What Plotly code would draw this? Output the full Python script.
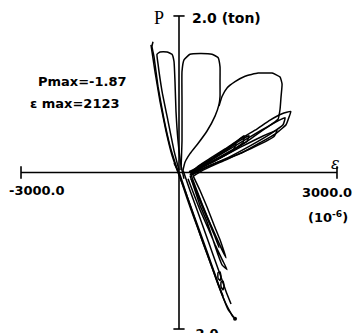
import plotly.graph_objects as go

# Axis extents (strain in 10^-6, load in ton)
x_axis_strain = [-3000.0, 3000.0]
y_axis_load = [-2.0, 2.0]

# Steep compression branches through the origin
branch_l1_strain = [-532, -456, -361, -247, -133, -19, 114, 247, 399, 532, 684, 817, 931, 1064]
branch_l1_load = [1.63, 1.29, 0.91, 0.53, 0.22, 0.0, -0.23, -0.48, -0.76, -1.01, -1.30, -1.56, -1.75, -1.87]

branch_l2_strain = [1026, 893, 741, 589, 437, 285, 152, 38, -57, -171, -285, -399, -475, -513, -494]
branch_l2_load = [-1.85, -1.68, -1.43, -1.14, -0.86, -0.58, -0.33, -0.10, 0.09, 0.34, 0.68, 1.10, 1.48, 1.61, 1.67]

branch_l3_strain = [76, 209, 361, 513, 646, 779, 893, 988]
branch_l3_load = [0.03, -0.23, -0.51, -0.80, -1.05, -1.30, -1.52, -1.68]

branch_l4_strain = [-95, 19, 152, 304, 456, 608, 741, 836]
branch_l4_load = [0.12, -0.03, -0.30, -0.60, -0.90, -1.18, -1.42, -1.58]

# Small kinks on the lower branch
kink_a_strain = [741, 779, 798, 779, 741, 741]
kink_a_load = [-1.28, -1.27, -1.33, -1.38, -1.35, -1.28]

kink_b_strain = [798, 836, 855, 836, 798, 798]
kink_b_load = [-1.40, -1.39, -1.45, -1.50, -1.46, -1.40]

# Upper loops
loop_b_strain = [0, -95, -209, -323, -399, -418, -361, -228, -133, -95, -76, -57, -19, 38, 95]
loop_b_load = [0.03, 0.28, 0.66, 1.04, 1.39, 1.51, 1.54, 1.54, 1.51, 1.42, 1.16, 0.78, 0.41, 0.09, -0.08]

loop_c_strain = [38, 57, 57, 57, 95, 209, 399, 627, 741, 779, 779, 779, 760, 684, 532, 361, 209, 114, 76]
loop_c_load = [0.03, 0.41, 0.91, 1.29, 1.44, 1.51, 1.52, 1.51, 1.47, 1.35, 1.16, 0.97, 0.87, 0.72, 0.53, 0.37, 0.24, 0.13, 0.03]

loop_d_strain = [760, 817, 912, 1064, 1254, 1501, 1767, 1919, 1957, 1938, 1919, 1881, 1634, 1254, 874, 494, 247]
loop_d_load = [0.85, 0.97, 1.08, 1.16, 1.23, 1.27, 1.27, 1.22, 1.13, 0.97, 0.81, 0.68, 0.56, 0.38, 0.22, 0.09, 0.0]

# Fan of tension loops
loop_e_strain = [209, 361, 589, 874, 1159, 1444, 1729, 1957, 2123, 2090, 2033, 1824, 1539, 1159, 779, 456, 266]
loop_e_load = [-0.03, 0.08, 0.18, 0.30, 0.43, 0.54, 0.67, 0.75, 0.78, 0.71, 0.61, 0.49, 0.38, 0.24, 0.13, 0.03, -0.05]

loop_f2_strain = [247, 589, 1064, 1539, 1881, 2014, 1976, 1729, 1349, 931, 551, 285]
loop_f2_load = [0.0, 0.15, 0.34, 0.53, 0.66, 0.70, 0.61, 0.49, 0.34, 0.19, 0.08, -0.01]

loop_f3_strain = [266, 684, 1159, 1577, 1862, 1805, 1444, 969, 494, 247]
loop_f3_load = [0.01, 0.15, 0.32, 0.46, 0.54, 0.46, 0.33, 0.19, 0.06, -0.03]

loop_f4_strain = [247, 494, 779, 1064, 1235, 1216, 1007, 684, 399, 209]
loop_f4_load = [0.0, 0.11, 0.25, 0.38, 0.47, 0.38, 0.28, 0.15, 0.05, -0.03]

loop_f5_strain = [209, 399, 684, 931, 1083, 1026, 779, 494, 266]
loop_f5_load = [0.0, 0.09, 0.20, 0.30, 0.37, 0.28, 0.19, 0.09, -0.01]

loop_f6_strain = [190, 380, 608, 855, 1140, 1330, 1292, 1045, 722, 418, 228]
loop_f6_load = [0.01, 0.07, 0.16, 0.27, 0.40, 0.47, 0.40, 0.30, 0.18, 0.06, -0.04]

# Lower loops after unloading
loop_r1_strain = [209, 304, 399, 532, 646, 741, 817, 912, 817, 684, 551, 399, 266, 171]
loop_r1_load = [-0.04, -0.23, -0.42, -0.63, -0.86, -1.05, -1.18, -1.24, -1.11, -0.92, -0.71, -0.48, -0.25, -0.08]

loop_r2_strain = [266, 399, 532, 665, 779, 855, 893, 817, 665, 494, 342, 228]
loop_r2_load = [-0.04, -0.23, -0.44, -0.67, -0.86, -1.01, -1.09, -0.99, -0.76, -0.51, -0.25, -0.08]

loop_r3_strain = [228, 323, 437, 570, 684, 760, 722, 608, 475, 342, 247]
loop_r3_load = [-0.03, -0.20, -0.40, -0.62, -0.82, -0.96, -0.88, -0.70, -0.49, -0.27, -0.10]

# Peak values
p_max = -1.87
eps_at_pmax = 1064
eps_max = 2123

curves = [
    (branch_l1_strain, branch_l1_load),
    (branch_l2_strain, branch_l2_load),
    (branch_l3_strain, branch_l3_load),
    (branch_l4_strain, branch_l4_load),
    (kink_a_strain, kink_a_load),
    (kink_b_strain, kink_b_load),
    (loop_b_strain, loop_b_load),
    (loop_c_strain, loop_c_load),
    (loop_d_strain, loop_d_load),
    (loop_e_strain, loop_e_load),
    (loop_f2_strain, loop_f2_load),
    (loop_f3_strain, loop_f3_load),
    (loop_f4_strain, loop_f4_load),
    (loop_f5_strain, loop_f5_load),
    (loop_f6_strain, loop_f6_load),
    (loop_r1_strain, loop_r1_load),
    (loop_r2_strain, loop_r2_load),
    (loop_r3_strain, loop_r3_load),
]

fig = go.Figure()

# Coordinate axes drawn as data lines with end ticks
fig.add_trace(go.Scatter(x=x_axis_strain, y=[0, 0], mode="lines",
                         line=dict(color="black", width=1.6), hoverinfo="skip"))
fig.add_trace(go.Scatter(x=[0, 0], y=y_axis_load, mode="lines",
                         line=dict(color="black", width=1.6), hoverinfo="skip"))
fig.add_trace(go.Scatter(x=x_axis_strain, y=[0, 0], mode="markers",
                         marker=dict(symbol="line-ns", size=9,
                                     line=dict(color="black", width=1.6))))
fig.add_trace(go.Scatter(x=[0, 0], y=y_axis_load, mode="markers",
                         marker=dict(symbol="line-ew", size=8,
                                     line=dict(color="black", width=1.6))))

for sx, sy in curves:
    fig.add_trace(go.Scatter(x=sx, y=sy, mode="lines",
                             line=dict(color="black", width=1.5, shape="spline", smoothing=0.4),
                             hoverinfo="skip"))

# End point at maximum compression load
fig.add_trace(go.Scatter(x=[eps_at_pmax], y=[p_max], mode="markers",
                         marker=dict(color="black", size=4)))

label_font = dict(family="DejaVu Sans", size=13, color="black")
annotations = [
    dict(x=-380, y=1.97, text="P", font=dict(family="Liberation Serif", size=18, color="black"),
         xanchor="center", yanchor="middle"),
    dict(x=209, y=1.97, text="<b>2.0 (ton)</b>", font=dict(family="DejaVu Sans", size=14, color="black"),
         xanchor="left", yanchor="middle"),
    dict(x=-1842, y=1.16, text="<b>Pmax=-1.87</b>", font=label_font, xanchor="center", yanchor="middle"),
    dict(x=-1975, y=0.88, text="<b>ε max=2123</b>", font=label_font, xanchor="center", yanchor="middle"),
    dict(x=-2700, y=-0.23, text="<b>-3000.0</b>", font=label_font, xanchor="center", yanchor="middle"),
    dict(x=2810, y=-0.26, text="<b>3000.0</b>", font=label_font, xanchor="center", yanchor="middle"),
    dict(x=2830, y=-0.57, text="<b>(10<sup>-6</sup>)</b>", font=label_font, xanchor="center", yanchor="middle"),
    dict(x=2975, y=0.11, text="<i>ε</i>", font=dict(family="DejaVu Serif", size=16, color="black"),
         xanchor="center", yanchor="middle"),
    dict(x=171, y=-1.94, text="<b>-2.0</b>", font=label_font, xanchor="left", yanchor="top"),
]
for a in annotations:
    a.update(showarrow=False, xref="x", yref="y")

fig.update_layout(
    width=356, height=333,
    margin=dict(l=0, r=0, t=0, b=0),
    paper_bgcolor="white", plot_bgcolor="white",
    showlegend=False,
    xaxis=dict(range=[-3399, 3361], visible=False, fixedrange=True),
    yaxis=dict(range=[-2.051, 2.204], visible=False, fixedrange=True),
    annotations=annotations,
)

fig.write_html("out.html", config={"displayModeBar": False})
